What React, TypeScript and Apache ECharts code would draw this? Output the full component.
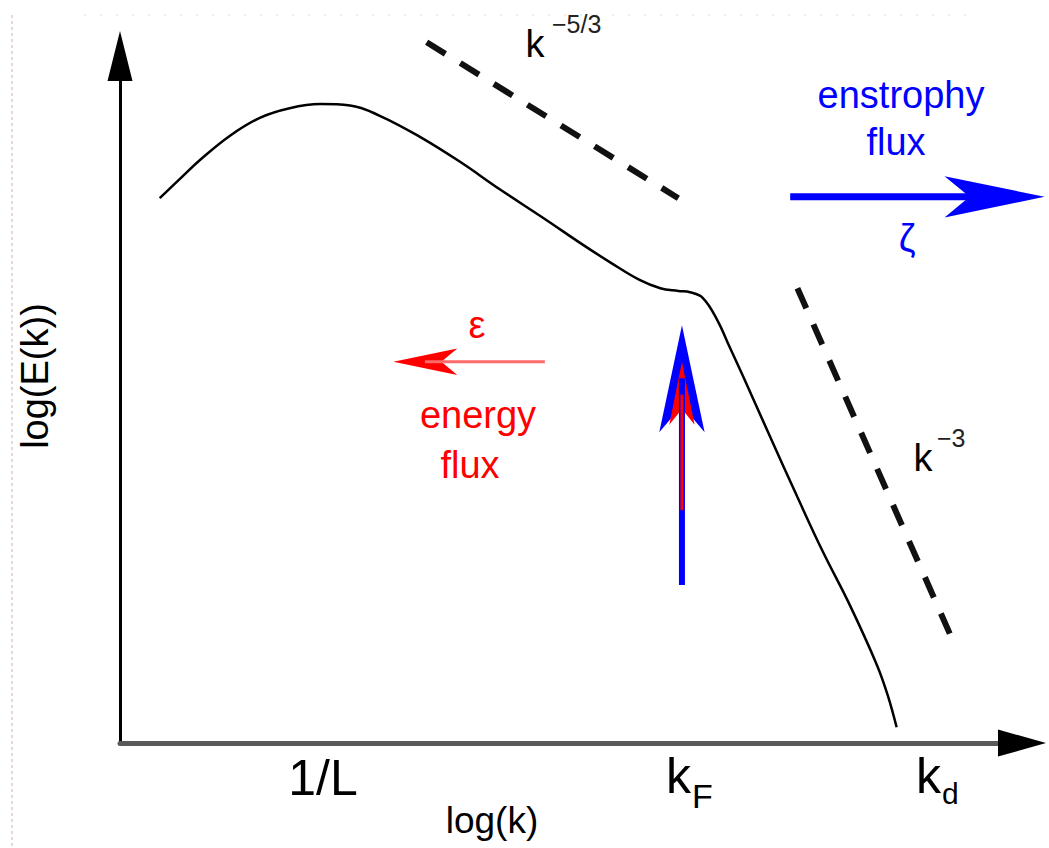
import React, { useEffect, useRef } from "react";
import * as echarts from "echarts";

// Energy spectrum curve (log k, log E) in abstract units 0..100
const spectrumK = [4.4, 6.7, 8.9, 12.2, 15.5, 18.8, 22.2, 25.5, 28.8, 33.3, 37.7, 42.1, 47.3, 51.0, 54.3, 57.6, 59.9, 61.9, 63.2, 64.6, 66.2, 67.6, 69.1, 72.1, 75.1, 77.9, 80.9, 83.9, 85.1, 86.1];
const spectrumE = [79.3, 82.2, 84.9, 88.4, 91.0, 92.4, 93.0, 92.8, 91.3, 88.2, 84.6, 80.6, 76.1, 72.8, 70.0, 67.4, 66.2, 65.8, 65.6, 64.8, 61.6, 57.6, 53.3, 44.5, 35.8, 27.9, 20.1, 11.4, 7.0, 2.3];

// Reference slopes k^-5/3 and k^-3
const inertialK = [34.0, 61.9];
const inertialE = [102.0, 79.3];
const enstrophyK = [75.1, 92.0];
const enstrophyE = [66.2, 15.9];

// Flux arrows: [shaft start, shaft end, head tip]
const enstrophyFluxK = [74.3, 97.0, 102.5];
const enstrophyFluxE = [79.5, 79.5, 79.5];
const energyFluxK = [47.1, 33.8, 30.3];
const energyFluxE = [55.5, 55.5, 55.5];
const forcingK = [62.3, 62.3, 62.3];
const forcingEnstrophyE = [23.0, 53.1, 60.8];
const forcingEnergyE = [33.9, 50.7, 55.5];

// Axis arrow-head positions (axis ends)
const axisHeadK = [100, 0];
const axisHeadE = [0, 100];

const FONT = '"Liberation Sans", Arial, sans-serif';
const BLUE = "#0000ff";
const RED = "#ff0000";

function arrowSeries(
  xs: number[],
  ys: number[],
  color: string,
  shaftColor: string,
  width: number,
  head: [number, number],
  rotate: number
) {
  return [
    {
      type: "line",
      clip: false,
      silent: true,
      showSymbol: false,
      lineStyle: { color: shaftColor, width, cap: "butt" },
      data: [
        [xs[0], ys[0]],
        [xs[1], ys[1]],
      ],
    },
    {
      type: "scatter",
      clip: false,
      silent: true,
      symbol: "arrow",
      symbolSize: head,
      symbolRotate: rotate,
      itemStyle: { color, borderWidth: 0, opacity: 1 },
      data: [[xs[2], ys[2]]],
    },
  ];
}

function txt(text: string, x: number, y: number, size: number, color: string, align = "center", extra: any = {}) {
  return {
    type: "text",
    x,
    y,
    silent: true,
    ...extra,
    style: { text, fill: color, fontSize: size, fontFamily: FONT, align, verticalAlign: "middle" },
  };
}

export default function App() {
  const ref = useRef<HTMLDivElement>(null);
  useEffect(() => {
    const chart = echarts.init(ref.current!, null, { renderer: "svg" });
    const option: any = {
      animation: false,
      backgroundColor: "#ffffff",
      grid: { left: 120, right: 27, top: 56, bottom: 105, containLabel: false },
      xAxis: {
        type: "value",
        min: 0,
        max: 100,
        axisLine: { show: true, onZero: false, lineStyle: { color: "#5a5a5a", width: 5 } },
        axisTick: { show: false },
        axisLabel: { show: false },
        splitLine: { show: false },
      },
      yAxis: {
        type: "value",
        min: 0,
        max: 100,
        axisLine: { show: true, onZero: false, lineStyle: { color: "#000000", width: 3 } },
        axisTick: { show: false },
        axisLabel: { show: false },
        splitLine: { show: false },
      },
      series: [
        {
          type: "scatter",
          clip: false,
          silent: true,
          symbol: "triangle",
          itemStyle: { color: "#000", opacity: 1 },
          data: [
            { value: [axisHeadK[0], axisHeadE[0]], symbolSize: [27, 48], symbolRotate: -90 },
            { value: [axisHeadK[1], axisHeadE[1]], symbolSize: [25, 50], symbolRotate: 0 },
          ],
        },
        {
          type: "line",
          clip: false,
          silent: true,
          smooth: 0.4,
          showSymbol: false,
          lineStyle: { color: "#000", width: 2.5 },
          data: spectrumK.map((k, i) => [k, spectrumE[i]]),
        },
        {
          type: "line",
          clip: false,
          silent: true,
          showSymbol: false,
          lineStyle: { color: "#111", width: 6, type: [22, 17.5], cap: "butt" },
          data: inertialK.map((k, i) => [k, inertialE[i]]),
        },
        {
          type: "line",
          clip: false,
          silent: true,
          showSymbol: false,
          lineStyle: { color: "#111", width: 6, type: [22, 17.5], cap: "butt" },
          data: enstrophyK.map((k, i) => [k, enstrophyE[i]]),
        },
        ...arrowSeries(enstrophyFluxK, enstrophyFluxE, BLUE, BLUE, 7, [31, 100], -90),
        ...arrowSeries(energyFluxK, energyFluxE, RED, "#ff6a6a", 3, [20, 64], 90),
        ...arrowSeries(forcingK, forcingEnstrophyE, BLUE, BLUE, 6, [34, 107], 0),
        ...arrowSeries(forcingK, forcingEnergyE, RED, RED, 3, [19, 63], 0),
      ],
      graphic: [
        { type: "line", silent: true, shape: { x1: 12, y1: 15, x2: 12, y2: 848 }, style: { stroke: "#e6d8d8", lineWidth: 2, lineDash: [3, 3] } },
        { type: "line", silent: true, shape: { x1: 84, y1: 15, x2: 975, y2: 15 }, style: { stroke: "#eeeeee", lineWidth: 2, lineDash: [2, 14] } },
        txt("k", 535, 44, 38, "#000"),
        txt("−5/3", 552, 24, 25, "#222", "left"),
        txt("k", 923, 458, 38, "#000"),
        txt("−3", 937, 438, 25, "#222", "left"),
        txt("enstrophy", 901, 95, 38, BLUE),
        txt("flux", 896, 142, 38, BLUE),
        txt("ζ", 907, 238, 38, BLUE),
        txt("ε", 477, 325, 38, RED),
        txt("energy", 478, 415, 38, RED),
        txt("flux", 470, 465, 38, RED),
        txt("1/L", 323, 778, 50, "#000"),
        txt("k", 666, 776, 50, "#000", "left"),
        txt("F", 692, 796, 34, "#000", "left"),
        txt("k", 916, 776, 50, "#000", "left"),
        txt("d", 942, 793, 30, "#000", "left"),
        txt("log(k)", 492, 820, 37, "#000"),
        txt("log(E(k))", 35, 376, 38, "#000", "center", { rotation: Math.PI / 2 }),
      ],
    };
    chart.setOption(option);
    return () => chart.dispose();
  }, []);
  return (
    <div
      ref={ref}
      style={{ position: "fixed", left: 0, top: 0, width: 1049, height: 848, background: "#fff" }}
    />
  );
}
